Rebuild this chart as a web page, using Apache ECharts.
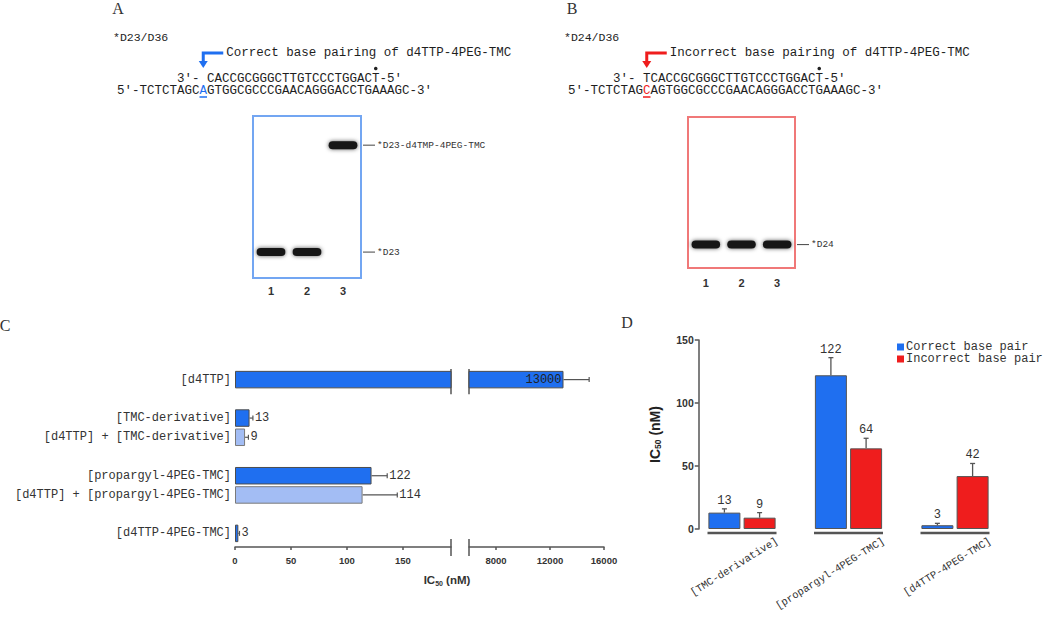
<!DOCTYPE html>
<html><head><meta charset="utf-8">
<script src="https://cdn.jsdelivr.net/npm/echarts@6/dist/echarts.min.js"></script>
<style>html,body{margin:0;padding:0;background:#fff}#c{width:1050px;height:617px}</style>
</head><body><div id="c"></div>
<script>
const MONO = '"Liberation Mono", "DejaVu Sans Mono", monospace';
const SANS = '"Liberation Sans", Arial, sans-serif';
const SERIF = '"Liberation Serif", "DejaVu Serif", serif';

// ---- Panels A / B : sequences ----
const seqTemplate = "5'-TCTCTAGCAGTGGCGCCCGAACAGGGACCTGAAAGC-3'";
const seqPrimerA = "3'- CACCGCGGGCTTGTCCCTGGACT-5'";
const seqPrimerB = "3'- TCACCGCGGGCTTGTCCCTGGACT-5'";
const highlightA = 11;   // 'A' opposite the incoming nucleotide
const highlightB = 10;   // 'C' opposite the incoming nucleotide
const duplexA = '*D23/D36';
const duplexB = '*D24/D36';
const noteA = 'Correct base pairing of d4TTP-4PEG-TMC';
const noteB = 'Incorrect base pairing of d4TTP-4PEG-TMC';

// ---- Gels ----
const gelLanes = ['1', '2', '3'];
const gelABands = [[0, 0.16], [1, 0.16], [2, 0.82]];       // [lane, relative migration]
const gelAMarkPos = [0.82, 0.16];
const gelAMarkText = ['*D23-d4TMP-4PEG-TMC', '*D23'];
const gelBBands = [[0, 0.155], [1, 0.155], [2, 0.155]];
const gelBMarkPos = [0.155];
const gelBMarkText = ['*D24'];

// ---- Panel C ----
const cCategories = ['[d4TTP]', ' ', '[TMC-derivative]', '[d4TTP] + [TMC-derivative]', '  ',
  '[propargyl-4PEG-TMC]', '[d4TTP] + [propargyl-4PEG-TMC]', '   ', '[d4TTP-4PEG-TMC]'];
const cSingle = [13000, null, 13, null, null, 122, null, null, 3];
const cSingleErr = [1900, null, 3, null, null, 14, null, null, 1];
const cCombo = [null, null, null, 9, null, null, 114, null, null];
const cComboErr = [null, null, null, 3, null, null, 31, null, null];
const cLowTicks = [0, 50, 100, 150];
const cHighTicks = [8000, 12000, 16000];
const cLowMax = 193, cHighMin = 6000, cHighMax = 16000;

// ---- Panel D ----
const dCategories = ['[TMC-derivative]', '[propargyl-4PEG-TMC]', '[d4TTP-4PEG-TMC]'];
const dCorrect = [13, 122, 3];
const dCorrectErr = [3, 14, 1.5];
const dIncorrect = [9, 64, 42];
const dIncorrectErr = [4, 8, 10];

const BLUE = '#1f6ff0', LIGHT = '#a3bdf4', RED = '#ef1d1d', AX = '#555';
const CW = 7.5; // mono char width at 12.5px
const TXT = '#1e1e1e';

function seqGraphics(o) {
  const els = [];
  els.push({type:'text', x:o.lx, y:8, style:{text:o.letter, fontFamily:SERIF, fontSize:16, fill:'#333', align:'center', verticalAlign:'middle'}});
  els.push({type:'text', x:o.tx - 4, y:37, style:{text:o.duplex, fontFamily:MONO, fontSize:11.5, fill:TXT, verticalAlign:'middle'}});
  const pre = seqTemplate.slice(0, o.hi), h = seqTemplate[o.hi], post = seqTemplate.slice(o.hi + 1);
  const tok = {fontFamily:MONO, fontSize:12.5, fill:TXT};
  els.push({type:'text', x:o.tx, y:91, style:{text:'{n|' + pre + '}{h|' + h + '}{n|' + post + '}', verticalAlign:'middle',
    rich:{n:tok, h:Object.assign({}, tok, {fill:o.color})}}});
  const px = o.tx + (o.pair - 4) * CW;
  els.push({type:'text', x:px, y:79, style:{text:o.primer, fontFamily:MONO, fontSize:12.5, fill:TXT, verticalAlign:'middle'}});
  const hx = o.tx + o.hi * CW;
  els.push({type:'line', shape:{x1:hx, y1:97, x2:hx + CW, y2:97}, style:{stroke:o.color, lineWidth:1.5}});
  const ax = hx + CW / 2;
  els.push({type:'polyline', shape:{points:[[ax + 20, 53], [ax, 53], [ax, 62]]}, style:{stroke:o.color, lineWidth:3, fill:null}});
  els.push({type:'polygon', shape:{points:[[ax - 4.5, 61], [ax + 4.5, 61], [ax, 68]]}, style:{fill:o.color}});
  els.push({type:'text', x:ax + 23, y:53, style:{text:o.note, fontFamily:MONO, fontSize:12.5, fill:TXT, verticalAlign:'middle'}});
  const dx = px + (o.primer.length - 4) * CW + CW / 2;
  els.push({type:'circle', shape:{cx:dx, cy:68.5, r:1.8}, style:{fill:'#222'}});
  return els;
}

const graphics = [].concat(
  seqGraphics({letter:'A', lx:118, tx:117, hi:highlightA, pair:highlightA + 1, primer:seqPrimerA, duplex:duplexA, note:noteA, color:BLUE}),
  seqGraphics({letter:'B', lx:572, tx:568, hi:highlightB, pair:highlightB, primer:seqPrimerB, duplex:duplexB, note:noteB, color:RED}),
  [
    {type:'text', x:5, y:325, style:{text:'C', fontFamily:SERIF, fontSize:16, fill:'#333', align:'center', verticalAlign:'middle'}},
    {type:'text', x:627, y:322, style:{text:'D', fontFamily:SERIF, fontSize:16, fill:'#333', align:'center', verticalAlign:'middle'}},
    {type:'text', x:447, y:580, style:{text:'{a|IC}{b|50}{a| (nM)}', align:'center', verticalAlign:'middle',
      rich:{a:{fontFamily:SANS, fontWeight:'bold', fontSize:11.5, fill:'#333'}, b:{fontFamily:SANS, fontWeight:'bold', fontSize:7, fill:'#333', verticalAlign:'bottom', padding:[6,0,0,0]}}}}
  ]
);

function bandRender(params, api) {
  const p = api.coord([api.value(0), api.value(1)]);
  const w = api.size([1, 0])[0] * 0.8;
  return {type:'group', children:[
    {type:'rect', shape:{x:p[0] - w / 2, y:p[1] - 4, width:w, height:8, r:4},
      style:{fill:'#151515', shadowBlur:4, shadowColor:'rgba(0,0,0,0.65)'}}
  ]};
}
function markRender(texts) {
  return function (params, api) {
    const y = api.coord([0, api.value(1)])[1];
    const x0 = params.coordSys.x + params.coordSys.width;
    return {type:'group', children:[
      {type:'line', shape:{x1:x0 + 2, y1:y, x2:x0 + 14, y2:y}, style:{stroke:'#444', lineWidth:1}},
      {type:'text', x:x0 + 16, y:y, style:{text:texts[params.dataIndex], fontFamily:MONO, fontSize:9.5, fill:'#333', verticalAlign:'middle'}}
    ]};
  };
}
function hErrRender(withLabel) {
  return function (params, api) {
    const v = api.value(0), s = api.value(1), e = api.value(2);
    const a = api.coord([v, s]), b = api.coord([v + e, s]);
    const ch = [
      {type:'line', shape:{x1:a[0], y1:a[1], x2:b[0], y2:b[1]}, style:{stroke:AX, lineWidth:1.2}},
      {type:'line', shape:{x1:b[0], y1:b[1] - 2.5, x2:b[0], y2:b[1] + 2.5}, style:{stroke:AX, lineWidth:1.2}}
    ];
    if (withLabel) ch.push({type:'text', x:b[0] + 2, y:a[1], style:{text:String(v), fontFamily:MONO, fontSize:12, fill:'#333', verticalAlign:'middle'}});
    return {type:'group', children:ch};
  };
}
function vErrRender(params, api) {
  const c = api.value(0), v = api.value(1), e = api.value(2), side = api.value(3);
  const p = api.coord([c, v]), t = api.coord([c, v + e]);
  const x = p[0] + side * 17.6;
  return {type:'group', children:[
    {type:'line', shape:{x1:x, y1:p[1], x2:x, y2:t[1]}, style:{stroke:AX, lineWidth:1.3}},
    {type:'line', shape:{x1:x - 2.5, y1:t[1], x2:x + 2.5, y2:t[1]}, style:{stroke:AX, lineWidth:1.3}},
    {type:'text', x:x, y:t[1] - 2, style:{text:String(v), fontFamily:MONO, fontSize:12, fill:'#333', align:'center', verticalAlign:'bottom'}}
  ]};
}
function dBaseRender(params, api) {
  const i = api.value(0);
  const p = api.coord([i, 0]);
  return {type:'group', children:[
    {type:'line', shape:{x1:p[0] - 34.5, y1:p[1] + 4, x2:p[0] + 34.5, y2:p[1] + 4}, style:{stroke:AX, lineWidth:2.5}},
    {type:'text', x:p[0] + 35, y:p[1] + 11, rotation:32 * Math.PI / 180,
      style:{text:dCategories[i], fontFamily:MONO, fontSize:10.5, fill:'#333', align:'right', verticalAlign:'middle'}}
  ]};
}

const dash = a => a.map(v => v == null ? '-' : v);
const errData = (vals, errs, filt) => vals.map((v, i) => v == null || !filt(v) ? null : [v, i, errs[i]]).filter(Boolean);

const catAxisC = (gi, showLabel) => ({gridIndex:gi, type:'category', data:cCategories, inverse:true,
  axisLine:{show:false}, axisTick:{show:false},
  axisLabel:{show:showLabel, fontFamily:MONO, fontSize:12, color:'#333', margin:4}, splitLine:{show:false}});
const valAxisC = (gi, min, max, ticks) => ({gridIndex:gi, type:'value', min:min, max:max, offset:4,
  axisLine:{show:true, lineStyle:{color:AX, width:1.5}},
  axisTick:{show:true, customValues:ticks, length:3, lineStyle:{color:AX, width:1.5}},
  axisLabel:{customValues:ticks, formatter:v => String(v), fontFamily:SANS, fontWeight:'bold', fontSize:9.5, color:'#333', margin:8},
  splitLine:{show:false}});

const option = {
  animation:false,
  backgroundColor:'#ffffff',
  graphic:graphics,
  grid:[
    {left:253, top:116, width:108, height:162, show:true, borderColor:'#73a6f2', borderWidth:2, backgroundColor:'#fff'},
    {left:688, top:117, width:107, height:151, show:true, borderColor:'#f07878', borderWidth:2, backgroundColor:'#fff'},
    {left:235, top:370, width:216, height:173},
    {left:469, top:370, width:135, height:173},
    {left:688.75, top:340, width:319.5, height:189}
  ],
  xAxis:[
    {gridIndex:0, type:'category', data:gelLanes, axisLine:{show:false}, axisTick:{show:false},
      axisLabel:{fontFamily:SANS, fontWeight:'bold', fontSize:11, color:'#333', margin:7}},
    {gridIndex:1, type:'category', data:gelLanes, axisLine:{show:false}, axisTick:{show:false},
      axisLabel:{fontFamily:SANS, fontWeight:'bold', fontSize:11, color:'#333', margin:9}},
    valAxisC(2, 0, cLowMax, cLowTicks),
    valAxisC(3, cHighMin, cHighMax, cHighTicks),
    {gridIndex:4, type:'category', data:dCategories, axisLine:{show:false}, axisTick:{show:false}, axisLabel:{show:false}}
  ],
  yAxis:[
    {gridIndex:0, type:'value', min:0, max:1, show:false},
    {gridIndex:1, type:'value', min:0, max:1, show:false},
    catAxisC(2, true),
    catAxisC(3, false),
    {gridIndex:4, type:'value', min:0, max:150, interval:50, offset:-10,
      axisLine:{show:true, lineStyle:{color:AX, width:1.5}},
      axisTick:{show:true, length:4, lineStyle:{color:AX, width:1.5}},
      axisLabel:{fontFamily:SANS, fontWeight:'bold', fontSize:10.5, color:'#333', margin:5},
      splitLine:{show:false},
      name:'{a|IC}{b|50}{a| (nM)}', nameLocation:'middle', nameGap:36, nameRotate:90,
      nameTextStyle:{rich:{a:{fontFamily:SANS, fontWeight:'bold', fontSize:14, color:'#222'},
        b:{fontFamily:SANS, fontWeight:'bold', fontSize:8.5, color:'#222', verticalAlign:'bottom', padding:[6,0,0,0]}}}}
  ],
  legend:{data:['Correct base pair', 'Incorrect base pair'], orient:'vertical', left:892, top:336,
    icon:'rect', itemWidth:7, itemHeight:7, itemGap:0, selectedMode:false,
    itemStyle:{borderWidth:0},
    textStyle:{fontFamily:MONO, fontSize:12, color:'#333', lineHeight:12, padding:[0,0,0,-3]}},
  series:[
    {type:'custom', name:'gelA', xAxisIndex:0, yAxisIndex:0, data:gelABands, renderItem:bandRender},
    {type:'custom', name:'gelAmarks', xAxisIndex:0, yAxisIndex:0, data:gelAMarkPos.map(m => [0, m]), renderItem:markRender(gelAMarkText)},
    {type:'custom', name:'gelB', xAxisIndex:1, yAxisIndex:1, data:gelBBands, renderItem:bandRender},
    {type:'custom', name:'gelBmarks', xAxisIndex:1, yAxisIndex:1, data:gelBMarkPos.map(m => [0, m]), renderItem:markRender(gelBMarkText)},

    {type:'bar', name:'single', xAxisIndex:2, yAxisIndex:2, data:dash(cSingle), barWidth:17.5, barGap:'-100%',
      itemStyle:{color:BLUE, borderColor:'#4d4d4d', borderWidth:1}},
    {type:'bar', name:'combo', xAxisIndex:2, yAxisIndex:2, data:dash(cCombo), barWidth:17.5, barGap:'-100%',
      itemStyle:{color:LIGHT, borderColor:'#7a7a7a', borderWidth:1}},
    {type:'custom', name:'errSingle', xAxisIndex:2, yAxisIndex:2, encode:{x:0, y:1},
      data:errData(cSingle, cSingleErr, v => v <= cLowMax), renderItem:hErrRender(true)},
    {type:'custom', name:'errCombo', xAxisIndex:2, yAxisIndex:2, encode:{x:0, y:1},
      data:errData(cCombo, cComboErr, v => v <= cLowMax), renderItem:hErrRender(true)},
    {type:'bar', name:'singleHigh', xAxisIndex:3, yAxisIndex:3, data:dash(cSingle.map(v => v != null && v > cLowMax ? v : null)),
      barWidth:17.5, itemStyle:{color:BLUE, borderColor:'#4d4d4d', borderWidth:1},
      label:{show:true, position:'insideRight', distance:2, fontFamily:MONO, fontSize:12, color:'#222'}},
    {type:'custom', name:'errHigh', xAxisIndex:3, yAxisIndex:3, encode:{x:0, y:1},
      data:errData(cSingle, cSingleErr, v => v > cLowMax), renderItem:hErrRender(false)},

    {type:'bar', name:'Correct base pair', xAxisIndex:4, yAxisIndex:4, data:dCorrect, barWidth:32, barGap:'10%',
      itemStyle:{color:BLUE, borderColor:'#555', borderWidth:1}},
    {type:'bar', name:'Incorrect base pair', xAxisIndex:4, yAxisIndex:4, data:dIncorrect, barWidth:32, barGap:'10%',
      itemStyle:{color:RED, borderColor:'#555', borderWidth:1}},
    {type:'custom', name:'errD', xAxisIndex:4, yAxisIndex:4, encode:{x:0, y:1},
      data:dCorrect.map((v, i) => [i, v, dCorrectErr[i], -1]).concat(dIncorrect.map((v, i) => [i, v, dIncorrectErr[i], 1])),
      renderItem:vErrRender},
    {type:'custom', name:'baseD', xAxisIndex:4, yAxisIndex:4, encode:{x:0, y:1},
      data:dCategories.map((c, i) => [i, 0]), renderItem:dBaseRender}
  ]
};

const chart = echarts.init(document.getElementById('c'), null, {renderer:'svg'});
chart.setOption(option);

// break marks of panel C, positioned from the axes
const xL = chart.convertToPixel({xAxisIndex:2}, cLowMax);
const xR = chart.convertToPixel({xAxisIndex:3}, cHighMin);
const y0 = chart.convertToPixel({yAxisIndex:2}, 0);
const y1 = chart.convertToPixel({yAxisIndex:2}, 1);
const band = y1 - y0;
const yAxisLine = chart.convertToPixel({yAxisIndex:2}, cCategories.length - 1) + band / 2 + 4;
const brk = [];
[xL, xR].forEach(x => {
  brk.push({type:'line', shape:{x1:x, y1:y0 - band / 2 - 1, x2:x, y2:y0 + band / 2 + 5}, style:{stroke:AX, lineWidth:1.5}});
  brk.push({type:'line', shape:{x1:x, y1:yAxisLine - 8, x2:x, y2:yAxisLine + 9}, style:{stroke:AX, lineWidth:1.5}});
});
chart.setOption({graphic:graphics.concat(brk)});
</script></body></html>
